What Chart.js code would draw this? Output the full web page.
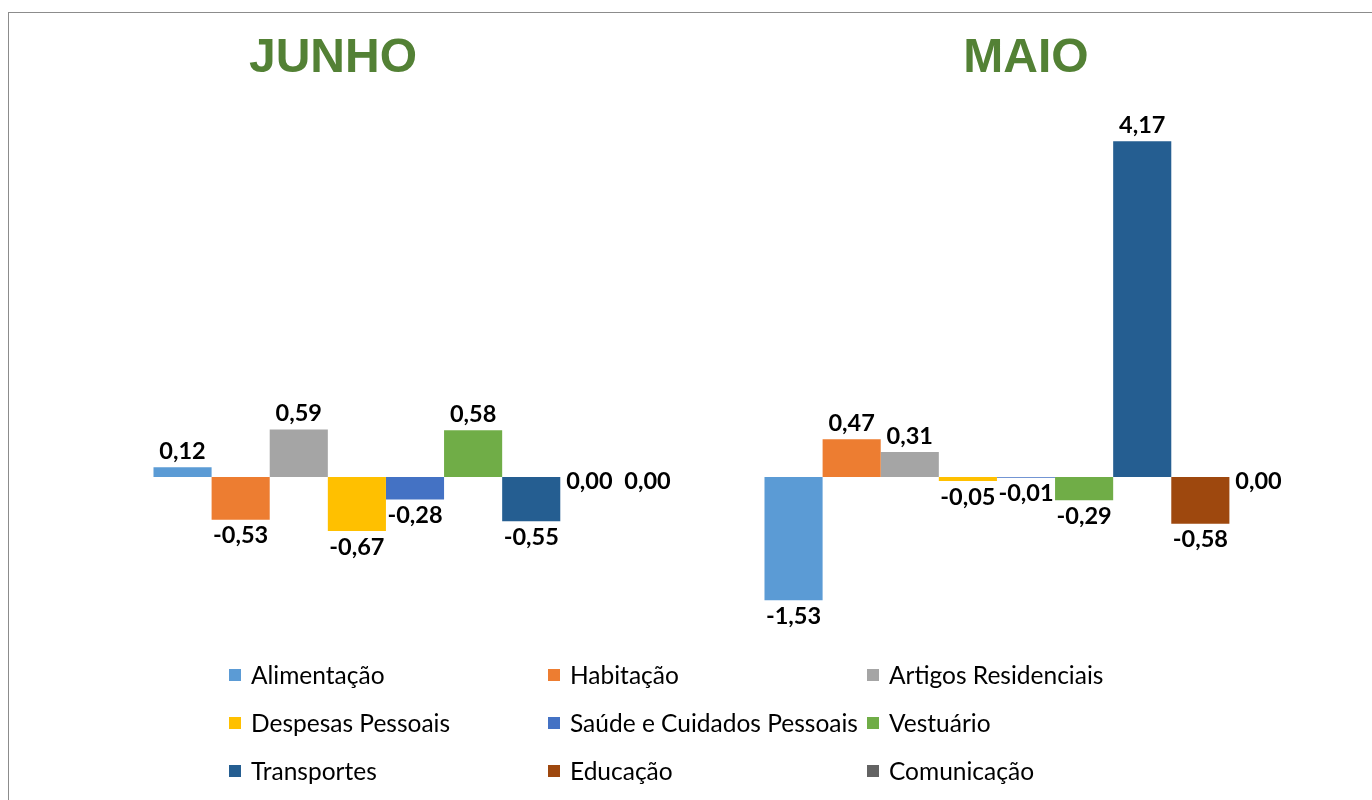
<!DOCTYPE html>
<html>
<head>
<meta charset="utf-8">
<script src="https://cdn.jsdelivr.net/npm/chart.js@4"></script>
<style>
html,body{margin:0;padding:0;background:#fff;overflow:hidden;width:1372px;height:800px;}
#wrap{position:relative;width:1372px;height:800px;}
#frame{position:absolute;left:8px;top:12px;width:2000px;height:2000px;border-left:1px solid #8c8c8c;border-top:1px solid #8c8c8c;box-sizing:border-box;pointer-events:none;}
canvas{position:absolute;left:0;top:0;}
</style>
</head>
<body>
<div id="wrap">
<canvas id="c" width="1372" height="800"></canvas>
<div id="frame"></div>
</div>
<script>
const categories = ['JUNHO', 'MAIO'];
const seriesNames = ['Alimentação','Habitação','Artigos Residenciais','Despesas Pessoais','Saúde e Cuidados Pessoais','Vestuário','Transportes','Educação','Comunicação'];
const alimentacao = [0.12, -1.53];
const habitacao = [-0.53, 0.47];
const artigosResidenciais = [0.59, 0.31];
const despesasPessoais = [-0.67, -0.05];
const saude = [-0.28, -0.01];
const vestuario = [0.58, -0.29];
const transportes = [-0.55, 4.17];
const educacao = [0.00, -0.58];
const comunicacao = [0.00, 0.00];
const seriesValues = [alimentacao, habitacao, artigosResidenciais, despesasPessoais, saude, vestuario, transportes, educacao, comunicacao];
const seriesColors = ['#5B9BD5','#ED7D31','#A5A5A5','#FFC000','#4472C4','#70AD47','#255E91','#9E480E','#636363'];
const titleOffsets = [-82, 0];

const datasets = seriesNames.map((n, i) => ({
  label: n,
  data: seriesValues[i],
  backgroundColor: seriesColors[i],
  borderWidth: 0,
  barPercentage: 1,
  categoryPercentage: 0.856
}));

const fmt = v => v.toFixed(2).replace('.', ',');

const labelsPlugin = {
  id: 'labels',
  afterDatasetsDraw(chart) {
    const ctx = chart.ctx;
    const y0 = chart.scales.y.getPixelForValue(0);
    ctx.save();
    ctx.font = 'bold 23.5px Lato';
    ctx.fillStyle = '#000';
    ctx.textAlign = 'center';
    ctx.textBaseline = 'middle';
    chart.data.datasets.forEach((ds, di) => {
      const meta = chart.getDatasetMeta(di);
      meta.data.forEach((el, j) => {
        const v = ds.data[j];
        let y;
        if (v > 0) y = el.y - 16;
        else if (v < 0) y = el.y + 16;
        else y = y0 + 4;
        ctx.fillText(fmt(v), el.x, y);
      });
    });
    ctx.restore();
  }
};

const titlesPlugin = {
  id: 'titles',
  afterDraw(chart) {
    const ctx = chart.ctx;
    const xs = chart.scales.x;
    ctx.save();
    ctx.font = 'bold 48px "Liberation Sans"';
    ctx.fillStyle = '#538135';
    ctx.textAlign = 'center';
    ctx.textBaseline = 'middle';
    chart.data.labels.forEach((l, i) => {
      ctx.fillText(l, xs.getPixelForValue(i) + titleOffsets[i], 59);
    });
    ctx.restore();
  }
};

const legendPlugin = {
  id: 'gridLegend',
  afterDraw(chart) {
    const ctx = chart.ctx;
    ctx.save();
    ctx.font = '24.5px Lato';
    ctx.textBaseline = 'middle';
    ctx.textAlign = 'left';
    chart.data.datasets.forEach((ds, i) => {
      const col = i % 3, row = Math.floor(i / 3);
      const bx = 229 + col * 319;
      const cy = 675 + row * 48;
      ctx.fillStyle = ds.backgroundColor;
      ctx.fillRect(bx, cy - 6, 12, 12);
      ctx.fillStyle = '#000';
      ctx.fillText(ds.label, bx + 22, cy + 1);
    });
    ctx.restore();
  }
};

new Chart(document.getElementById('c'), {
  type: 'bar',
  data: { labels: categories, datasets },
  options: {
    responsive: false,
    animation: false,
    layout: { padding: { left: 109.5, right: 40.5, top: 114.75, bottom: 162 } },
    plugins: { legend: { display: false }, tooltip: { enabled: false } },
    scales: {
      x: { display: false },
      y: { display: false, min: -2, max: 4.5 }
    }
  },
  plugins: [labelsPlugin, titlesPlugin, legendPlugin]
});
</script>
</body>
</html>
